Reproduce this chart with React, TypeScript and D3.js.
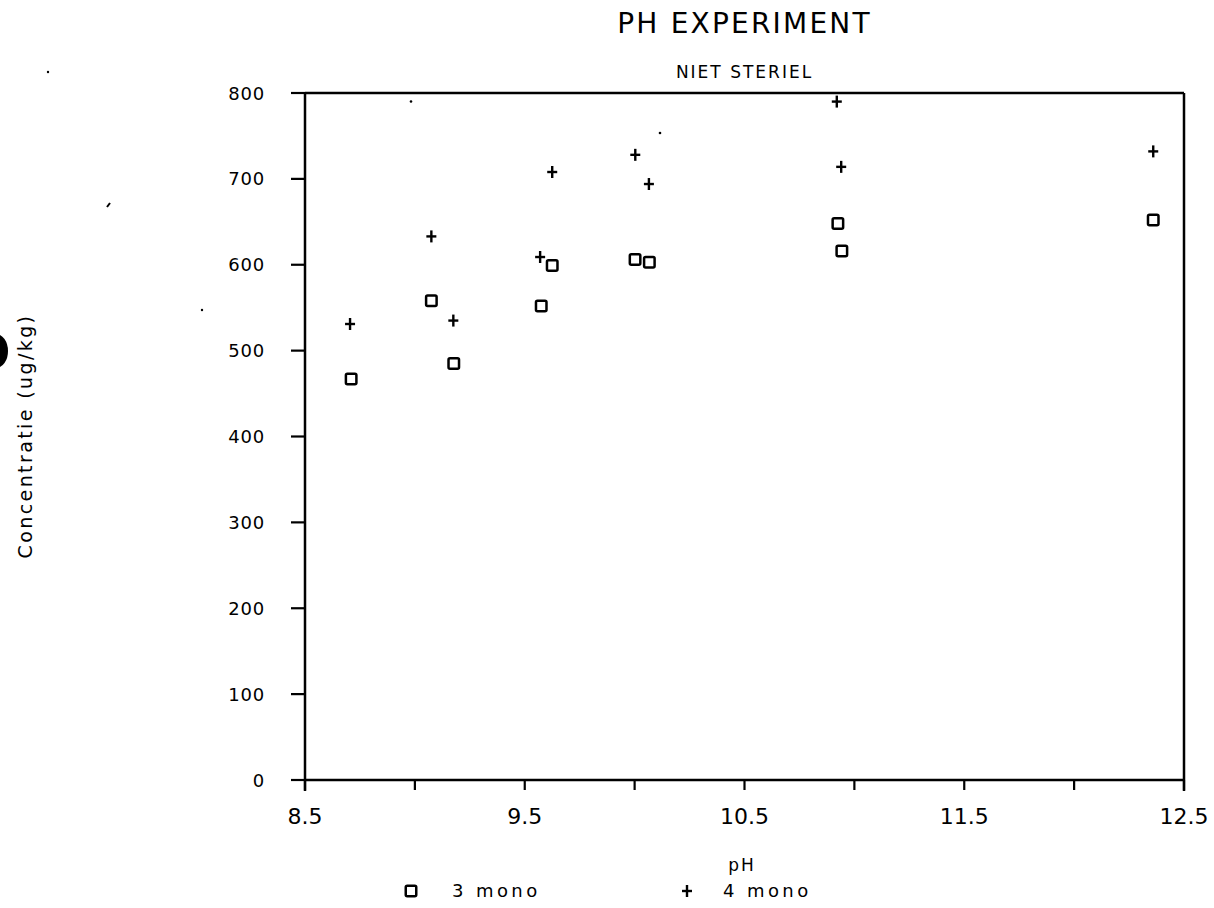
import React from "react";
import * as d3 from "d3";

const title = "PH EXPERIMENT";
const subtitle = "NIET STERIEL";
const xLabel = "pH";
const yLabel = "Concentratie (ug/kg)";

const mono3pH = [8.71, 9.075, 9.177, 9.575, 9.625, 10.002, 10.067, 10.925, 10.943, 12.36];
const mono3Conc = [467, 558, 485, 552, 599, 606, 603, 648, 616, 652];

const mono4pH = [8.705, 9.075, 9.175, 9.57, 9.625, 10.003, 10.065, 10.92, 10.94, 12.36];
const mono4Conc = [531, 633, 535, 609, 708, 728, 694, 790, 714, 732];

const xTicks = [8.5, 9, 9.5, 10, 10.5, 11, 11.5, 12, 12.5];
const xTickLabels = ["8.5", "", "9.5", "", "10.5", "", "11.5", "", "12.5"];
const yTicks = [0, 100, 200, 300, 400, 500, 600, 700, 800];

const legendNames = ["3 mono", "4 mono"];

const W = 1214;
const H = 908;
const left = 305;
const right = 1184;
const top = 93;
const bottom = 780;

const FONT = "'DejaVu Sans', sans-serif";

function Square({ cx, cy }: { cx: number; cy: number }) {
  const s = 10.5;
  return (
    <rect
      x={cx - s / 2}
      y={cy - s / 2}
      width={s}
      height={s}
      rx={1.5}
      fill="none"
      stroke="#000"
      strokeWidth={2.5}
    />
  );
}

function Plus({ cx, cy }: { cx: number; cy: number }) {
  return (
    <g stroke="#000" strokeWidth={2.4}>
      <line x1={cx - 5} x2={cx + 5} y1={cy} y2={cy} />
      <line x1={cx} x2={cx} y1={cy - 6} y2={cy + 6} />
    </g>
  );
}

export default function App() {
  const x = d3.scaleLinear().domain([8.5, 12.5]).range([left, right]);
  const y = d3.scaleLinear().domain([0, 800]).range([bottom, top]);
  const cx = (left + right) / 2;

  return (
    <svg
      width={W}
      height={H}
      viewBox={`0 0 ${W} ${H}`}
      style={{ position: "absolute", left: 0, top: 0, background: "#fff" }}
    >
      <rect x={0} y={0} width={W} height={H} fill="#fff" />

      {/* scan artifacts */}
      <ellipse cx={-4} cy={351} rx={12} ry={17} fill="#000" />
      <circle cx={411} cy={101.5} r={1.3} fill="#000" />
      <circle cx={660} cy={133} r={1.3} fill="#000" />
      <circle cx={202} cy={310} r={1.2} fill="#000" />
      <circle cx={48} cy={72} r={1.2} fill="#000" />
      <line x1={107} y1={207} x2={110} y2={203} stroke="#000" strokeWidth={2} />

      {/* titles */}
      <text
        x={cx}
        y={33}
        textAnchor="middle"
        fontFamily={FONT}
        fontSize={28}
        letterSpacing={2.2}
        fill="#000"
      >
        {title}
      </text>
      <text
        x={cx}
        y={78}
        textAnchor="middle"
        fontFamily={FONT}
        fontSize={17}
        letterSpacing={2}
        fill="#000"
      >
        {subtitle}
      </text>

      {/* frame */}
      <g stroke="#000" strokeWidth={2.5} fill="none">
        <line x1={left} x2={right} y1={top} y2={top} />
        <line x1={left} x2={right} y1={bottom} y2={bottom} />
        <line x1={left} x2={left} y1={top} y2={bottom + 11} />
        <line x1={right} x2={right} y1={top} y2={bottom + 11} />
      </g>

      {/* y ticks */}
      {yTicks.map((t) => (
        <g key={`y${t}`}>
          <line x1={left - 14} x2={left} y1={y(t)} y2={y(t)} stroke="#000" strokeWidth={2.2} />
          <text
            x={265}
            y={y(t) + 6.5}
            textAnchor="end"
            fontFamily={FONT}
            fontSize={18}
            letterSpacing={0.8}
            fill="#000"
          >
            {t}
          </text>
        </g>
      ))}

      {/* x ticks */}
      {xTicks.map((t, i) => (
        <g key={`x${t}`}>
          <line x1={x(t)} x2={x(t)} y1={bottom} y2={bottom + 10} stroke="#000" strokeWidth={2.2} />
          {xTickLabels[i] && (
            <text
              x={x(t)}
              y={824}
              textAnchor="middle"
              fontFamily={FONT}
              fontSize={22}
              fill="#000"
            >
              {xTickLabels[i]}
            </text>
          )}
        </g>
      ))}

      {/* axis labels */}
      <text
        x={742}
        y={871}
        textAnchor="middle"
        fontFamily={FONT}
        fontSize={17}
        letterSpacing={2}
        fill="#000"
      >
        {xLabel}
      </text>
      <text
        transform={`translate(32, 436) rotate(-90)`}
        textAnchor="middle"
        fontFamily={FONT}
        fontSize={19}
        letterSpacing={2.4}
        fill="#000"
      >
        {yLabel}
      </text>

      {/* data */}
      {mono4pH.map((p, i) => (
        <Plus key={`p${i}`} cx={x(p)} cy={y(mono4Conc[i])} />
      ))}
      {mono3pH.map((p, i) => (
        <Square key={`s${i}`} cx={x(p)} cy={y(mono3Conc[i])} />
      ))}

      {/* legend */}
      <Square cx={411} cy={891} />
      <text x={452} y={897} fontFamily={FONT} fontSize={18} letterSpacing={3.4} fill="#000">
        {legendNames[0]}
      </text>
      <Plus cx={687} cy={891} />
      <text x={723} y={897} fontFamily={FONT} fontSize={18} letterSpacing={3.4} fill="#000">
        {legendNames[1]}
      </text>
    </svg>
  );
}
